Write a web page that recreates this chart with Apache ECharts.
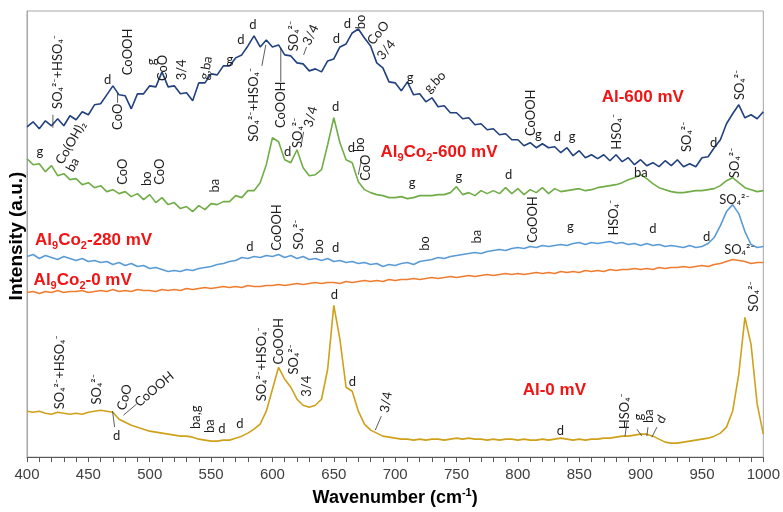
<!DOCTYPE html>
<html><head><meta charset="utf-8">
<script src="https://cdn.jsdelivr.net/npm/echarts@6/dist/echarts.min.js"></script>
<style>html,body{margin:0;padding:0;background:#fff}#c{width:783px;height:512px}</style>
</head><body><div id="c"></div>
<script>
// Raman shift (cm-1)
const wavenumber = [
400,405,410,415,420,425,430,435,440,445,
450,455,460,465,470,475,480,485,490,495,
500,505,510,515,520,525,530,535,540,545,
550,555,560,565,570,575,580,585,590,595,
600,605,610,615,620,625,630,635,640,645,
650,655,660,665,670,675,680,685,690,695,
700,705,710,715,720,725,730,735,740,745,
750,755,760,765,770,775,780,785,790,795,
800,805,810,815,820,825,830,835,840,845,
850,855,860,865,870,875,880,885,890,895,
900,905,910,915,920,925,930,935,940,945,
950,955,960,965,970,975,980,985,990,995,
1000];
// Intensities (a.u., stacked with offsets as in the figure)
const al600 = [
331,336,329,337,332,339,332,342,338,346,
343,353,354,363,372,363,362,349,364,364,
372,371,386,371,372,364,365,357,375,375,
384,383,392,392,400,403,412,422,411,418,
411,413,403,402,395,394,387,389,386,397,
399,411,414,425,429,420,412,395,390,376,
375,367,376,363,364,356,360,351,352,345,
345,339,340,333,334,328,329,323,324,318,
318,312,315,310,314,310,311,305,310,302,
307,300,303,299,303,297,303,296,300,293,
298,292,295,291,297,292,298,291,294,291,
300,301,310,318,334,344,353,340,343,339,
346];
const alco600 = [
299,293,294,286,292,282,284,278,279,273,
275,270,272,266,268,264,266,261,264,258,
263,255,260,253,255,249,251,246,252,248,
254,253,256,256,262,260,267,267,275,293,
320,316,298,295,308,290,282,283,288,313,
340,315,298,295,276,268,265,263,262,260,
260,261,259,260,262,262,262,263,263,265,
271,263,265,262,267,264,267,264,270,264,
269,263,268,265,270,264,269,266,267,268,
269,267,268,270,271,272,273,275,278,280,
283,279,274,270,268,266,265,265,266,267,
267,268,269,272,277,280,275,270,268,266,
267];
const alco280 = [
201,203,199,202,200,198,201,199,197,199,
196,197,195,196,193,195,192,194,191,192,
189,190,188,186,187,186,188,187,189,190,
191,193,194,196,197,200,199,201,200,202,
201,203,200,202,199,201,198,199,197,199,
196,197,195,196,194,195,193,194,191,193,
192,194,195,193,196,197,198,200,199,201,
202,203,204,205,204,206,207,208,207,209,
210,209,211,210,212,211,212,213,212,214,
215,213,215,214,215,216,214,215,213,214,
212,214,212,213,211,212,211,210,212,210,
211,214,220,232,246,253,244,226,213,210,
211];
const alco0 = [
165,166,164,166,165,167,165,166,166,167,
165,166,167,166,168,166,167,166,168,167,
167,166,168,167,168,167,169,168,169,170,
169,170,171,170,171,170,172,171,171,172,
172,173,172,173,174,173,174,175,174,175,
175,174,176,175,176,177,176,177,176,178,
177,178,178,179,178,179,180,179,180,181,
180,181,182,181,182,183,182,183,184,183,
184,183,184,185,184,185,184,186,185,186,
185,187,186,187,186,188,187,188,188,189,
188,189,188,190,189,190,190,191,190,191,
192,191,193,194,196,198,197,196,194,195,
195];
const al0 = [
46,45,46,44,43,45,44,43,44,43,
45,46,47,46,45,38,35,32,30,28,
26,25,24,23,22,21,21,20,18,17,
16,16,17,17,19,21,24,28,33,46,
68,90,78,70,58,52,50,52,58,88,
152,118,70,66,46,33,27,24,21,20,
19,18,18,17,18,17,18,18,17,18,
19,18,19,18,18,17,18,17,18,18,
17,18,17,17,18,17,18,19,18,17,
18,17,18,18,19,19,20,21,21,22,
23,23,21,18,15,14,14,15,16,17,
18,19,21,24,30,46,83,140,113,53,
23];
const seriesNames = ['Al-600 mV','Al9Co2-600 mV','Al9Co2-280 mV','Al9Co2-0 mV','Al-0 mV'];
const xTickLabels = ['400','450','500','550','600','650','700','750','800','850','900','950','1000'];
// Band assignments: [wavenumber, intensity, text, angle]
const annotations = [
[425.1,386,'SO₄²⁻+HSO₄⁻',90],[465.7,378,'d',0],[481.9,406,'CoOOH',90],[473.8,341,'CoO',90],
[501.4,396,'g',90],[510.3,390,'CoO',90],[526.5,388,'3/4',90],[545.9,390,'g,ba',80],
[565.4,398,'g',0],[574.3,418,'d',0],[584.1,433,'d',0],[584.9,353,'SO₄²⁻+HSO₄⁻',90],
[606.8,353,'CoOOH',90],[617.3,422,'SO₄²⁻',90],[631.1,423,'3/4',65],[652.2,419,'d',0],
[661.1,434,'d',0],[672.4,436,'bo',90],[686.2,425,'CoO',50],[692.7,408,'3/4',50],
[712.2,380,'g',0],[732.4,376,'g,bo',45],[810.3,345,'CoOOH',90],[816.8,323,'g',0],
[832.2,321,'d',0],[844.3,321,'g',0],[880.8,326,'HSO₄⁻',90],[937.6,321,'SO₄²⁻',90],
[959.5,315,'d',0],[980.5,373,'SO₄²⁻',90],
[410.5,306,'g',0],[435.7,315,'Co(OH)₂',60],[437.3,293,'ba',60],[477.8,286,'CoO',90],
[497.3,279,'bo',90],[508.6,286,'CoO',90],[553.2,272,'ba',90],[612.4,306,'d',0],
[620.5,325,'SO₄²⁻',90],[631.1,341,'3/4',75],[651.4,351,'d',0],[664.3,310,'d',0],
[671.6,313,'bo',90],[675.7,290,'CoO',90],[713.8,275,'g',0],[751.9,281,'g',0],
[792.4,283,'d',0],[900.3,285,'ba',0],[976.5,295,'SO₄²⁻',90],
[581.6,211,'d',0],[603.5,230,'CoOOH',90],[621.4,223,'SO₄²⁻',90],[637.6,211,'bo',90],
[651.4,210,'d',0],[724.3,214,'bo',90],[766.5,221,'ba',90],[811.9,238,'CoOOH',90],
[842.7,231,'g',0],[878.4,240,'HSO₄⁻',90],[910.0,229,'d',0],[953.8,221,'d',0],
[976.5,258,'SO₄²⁻',0],[980.5,208,'SO₄²⁻',0],
[426.8,85,'SO₄²⁻+HSO₄⁻',90],[456.8,68,'SO₄²⁻',90],[479.5,60,'CoO',75],[503.8,68,'CoOOH',40],
[473.0,21,'d',0],[537.8,40,'ba,g',90],[549.2,31,'ba',90],[558.9,28,'d',0],[573.5,33,'d',0],
[591.4,93,'SO₄²⁻+HSO₄⁻',90],[605.1,116,'CoOOH',90],[617.3,98,'SO₄²⁻',90],[627.8,71,'3/4',90],
[650.5,163,'d',0],[665.1,75,'d',0],[692.7,55,'3/4',80],[834.6,26,'d',0],
[887.3,46,'HSO₄⁻',90],[898.6,40,'g',90],[906.8,41,'ba',90],[916.5,38,'d',60],
[991.9,161,'SO₄²⁻',90]
];
// Leader lines: [wn1, v1, wn2, v2]
const leaders = [
[421.1,343,421.1,330],[473.8,355,473.8,365],[591.4,392,594.6,413],[606.8,376,606.8,410],
[625.4,403,627.8,411],[625.4,326,623.8,315],[670.0,283,672.5,298],[489.2,53,478.6,42],
[469.7,46,471.4,30],[688.7,41,683.8,27],[888.9,35,887.3,21],[897.0,28,901.0,21],
[906.0,30,905.1,21],[913.3,30,909.2,20]
];
// Sample labels: [wavenumber, intensity]
const sampleLabelPos = [[901.8,361],[735.7,305],[454.3,217],[445.4,177],[829.7,67]];

const colors = ['#20407e','#70ad47','#5b9bd5','#ed7d31','#cfa11a'];
const seriesData = [al600, alco600, alco280, alco0, al0];
const chart = echarts.init(document.getElementById('c'));
chart.setOption({
  animation:false,
  grid:{left:27,right:16,top:11,bottom:54,show:true,borderColor:'#a6a6a6',borderWidth:1},
  xAxis:{type:'value',min:400,max:1000,interval:50,
    axisLine:{lineStyle:{color:'#595959',width:1}},
    axisTick:{length:5,lineStyle:{color:'#595959'}},
    minorTick:{show:true,splitNumber:5,length:5,lineStyle:{color:'#595959'}},
    splitLine:{show:false},
    axisLabel:{fontSize:15,color:'#404040',margin:10,fontFamily:'Liberation Sans',
      formatter:(v)=>xTickLabels[Math.round((v-400)/50)]},
    name:'{a|Wavenumber (cm}{s|-1}{a|)}',nameLocation:'middle',nameGap:29,
    nameTextStyle:{rich:{a:{fontSize:18,fontWeight:'bold',color:'#000',fontFamily:'Liberation Sans',lineHeight:22},
      s:{fontSize:11,fontWeight:'bold',color:'#000',fontFamily:'Liberation Sans',lineHeight:22,verticalAlign:'top'}}}
  },
  yAxis:{type:'value',min:0,max:447,axisLine:{show:true,lineStyle:{color:'#a6a6a6'}},
    axisTick:{show:false},axisLabel:{show:false},splitLine:{show:false}},
  series: seriesData.map((d,i)=>({type:'line',name:seriesNames[i],
    data:wavenumber.map((w,j)=>[w,d[j]]),showSymbol:false,silent:true,
    lineStyle:{width:1.6,color:colors[i]},itemStyle:{color:colors[i]}}))
});

const toPx = (w,v)=>chart.convertToPixel({gridIndex:0},[w,v]);
const graphics = [];
const annFont = '13px Lato, "DejaVu Sans", sans-serif';
annotations.forEach(a=>{
  const p = toPx(a[0],a[1]);
  graphics.push({type:'text',x:p[0],y:p[1],rotation:a[3]*Math.PI/180,silent:true,z:50,
    style:{text:a[2],font:annFont,fill:'#1e1e1e',align:'center',verticalAlign:'middle'}});
});
leaders.forEach(l=>{
  const p1 = toPx(l[0],l[1]), p2 = toPx(l[2],l[3]);
  graphics.push({type:'line',silent:true,z:50,shape:{x1:p1[0],y1:p1[1],x2:p2[0],y2:p2[1]},
    style:{stroke:'#333',lineWidth:0.8}});
});
const richRed = {
  a:{fontSize:17,fontWeight:'bold',fill:'#f01414',fontFamily:'Liberation Sans',lineHeight:22},
  s:{fontSize:11,fontWeight:'bold',fill:'#f01414',fontFamily:'Liberation Sans',lineHeight:22,verticalAlign:'bottom'}
};
const fmtName = n=>{
  const m = n.match(/^Al9Co2(.*)$/);
  return m ? '{a|Al}{s|9}{a|Co}{s|2}{a|'+m[1]+'}' : '{a|'+n+'}';
};
sampleLabelPos.forEach((p,i)=>{
  const q = toPx(p[0],p[1]);
  graphics.push({type:'text',x:q[0],y:q[1],silent:true,z:60,
    style:{text:fmtName(seriesNames[i]),rich:richRed,align:'center',verticalAlign:'middle'}});
});
graphics.push({type:'text',x:17,y:236,rotation:Math.PI/2,silent:true,z:60,
  style:{text:'Intensity (a.u.)',font:'bold 19px "Liberation Sans"',fill:'#000',align:'center',verticalAlign:'middle'}});
chart.setOption({graphic:graphics});
</script></body></html>
